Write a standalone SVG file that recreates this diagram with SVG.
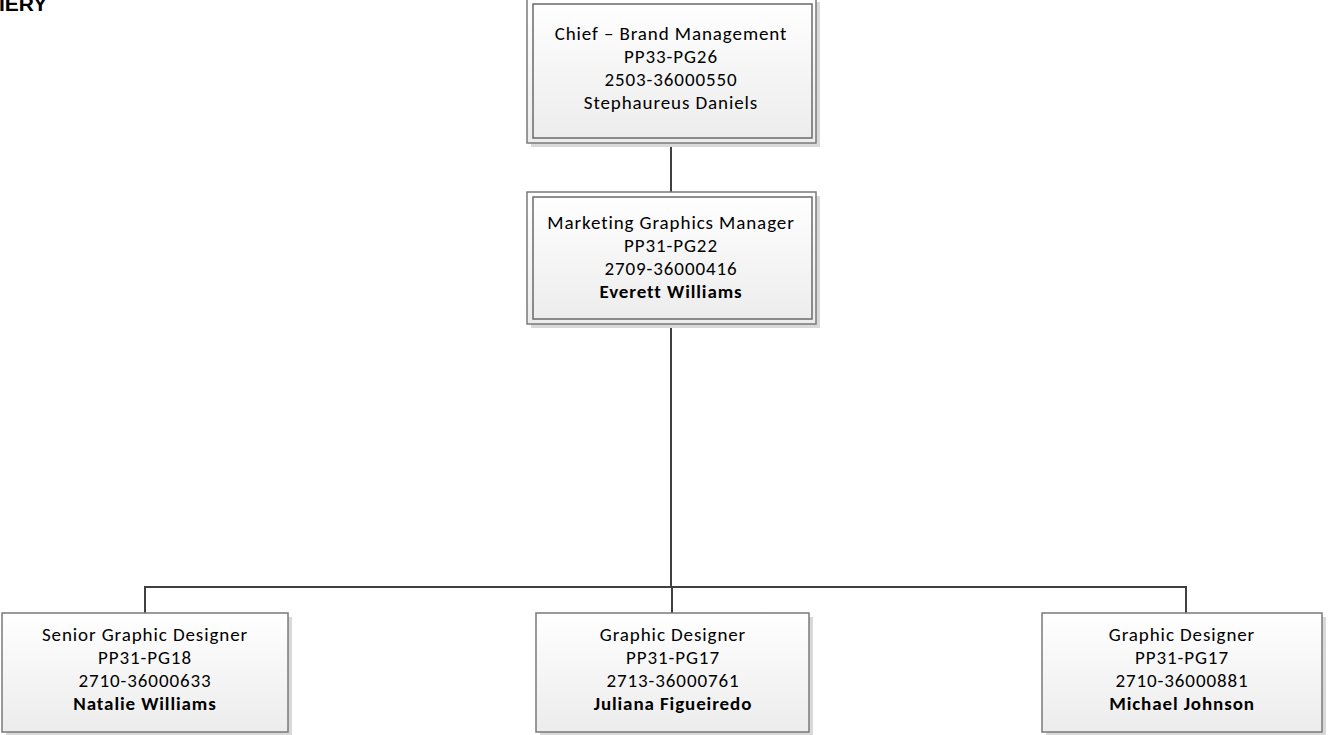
<svg xmlns="http://www.w3.org/2000/svg" width="1333" height="735" viewBox="0 0 1333 735">
  <defs>
    <linearGradient id="boxFill" x1="0" y1="0" x2="0" y2="1">
      <stop offset="0" stop-color="#ffffff"/>
      <stop offset="1" stop-color="#ececec"/>
    </linearGradient>
    <style>
      .shadow { fill: #d9d9d9; }
      .box { fill: url(#boxFill); stroke: #7a7a7a; stroke-width: 1.5; }
      .inner { fill: none; stroke: #6a6a6a; stroke-width: 1.5; }
      .conn { fill: none; stroke: #404040; stroke-width: 2; }
      .t { font-family: Carlito, Calibri, Lato, sans-serif; font-size: 19px; letter-spacing: 0.9px; fill: #000; text-anchor: middle; }
      .b { font-weight: bold; }
      .hdr { font-family: "Liberation Sans", Arial, sans-serif; font-size: 21px; font-weight: bold; fill: #000; }
    </style>
  </defs>
  <rect width="1333" height="735" fill="#ffffff"/>

  <text class="hdr" x="-1" y="10.5">IERY</text>

  <!-- connectors -->
  <g id="connectors">
    <line class="conn" x1="671" y1="143" x2="671" y2="192"/>
    <line class="conn" x1="671" y1="324" x2="671" y2="587"/>
    <polyline class="conn" points="145,613 145,587 1186,587 1186,613"/>
    <line class="conn" x1="672" y1="587" x2="672" y2="613"/>
  </g>

  <!-- Chief – Brand Management -->
  <g id="node-chief">
    <rect class="shadow" x="531" y="2" width="289" height="145"/>
    <rect class="box" x="527" y="-2" width="289" height="145"/>
    <rect class="inner" x="533" y="4" width="279" height="134"/>
    <text class="t" x="671" y="40">Chief – Brand Management</text>
    <text class="t" x="671" y="63">PP33-PG26</text>
    <text class="t" x="671" y="86">2503-36000550</text>
    <text class="t" x="671" y="109">Stephaureus Daniels</text>
  </g>

  <!-- Marketing Graphics Manager -->
  <g id="node-manager">
    <rect class="shadow" x="531" y="196" width="289" height="132"/>
    <rect class="box" x="527" y="192" width="289" height="132"/>
    <rect class="inner" x="533" y="197" width="279" height="122"/>
    <text class="t" x="671" y="229">Marketing Graphics Manager</text>
    <text class="t" x="671" y="252">PP31-PG22</text>
    <text class="t" x="671" y="275">2709-36000416</text>
    <text class="t b" x="671" y="298">Everett Williams</text>
  </g>

  <!-- Senior Graphic Designer -->
  <g id="node-senior">
    <rect class="shadow" x="6" y="617" width="286" height="120"/>
    <rect class="box" x="2" y="613" width="286" height="119"/>
    <text class="t" x="145" y="641">Senior Graphic Designer</text>
    <text class="t" x="145" y="664">PP31-PG18</text>
    <text class="t" x="145" y="687">2710-36000633</text>
    <text class="t b" x="145" y="710">Natalie Williams</text>
  </g>

  <!-- Graphic Designer (Figueiredo) -->
  <g id="node-designer-1">
    <rect class="shadow" x="540" y="617" width="273" height="120"/>
    <rect class="box" x="536" y="613" width="273" height="119"/>
    <text class="t" x="673" y="641">Graphic Designer</text>
    <text class="t" x="673" y="664">PP31-PG17</text>
    <text class="t" x="673" y="687">2713-36000761</text>
    <text class="t b" x="673" y="710">Juliana Figueiredo</text>
  </g>

  <!-- Graphic Designer (Johnson) -->
  <g id="node-designer-2">
    <rect class="shadow" x="1046" y="617" width="280" height="120"/>
    <rect class="box" x="1042" y="613" width="280" height="119"/>
    <text class="t" x="1182" y="641">Graphic Designer</text>
    <text class="t" x="1182" y="664">PP31-PG17</text>
    <text class="t" x="1182" y="687">2710-36000881</text>
    <text class="t b" x="1182" y="710">Michael Johnson</text>
  </g>
</svg>
